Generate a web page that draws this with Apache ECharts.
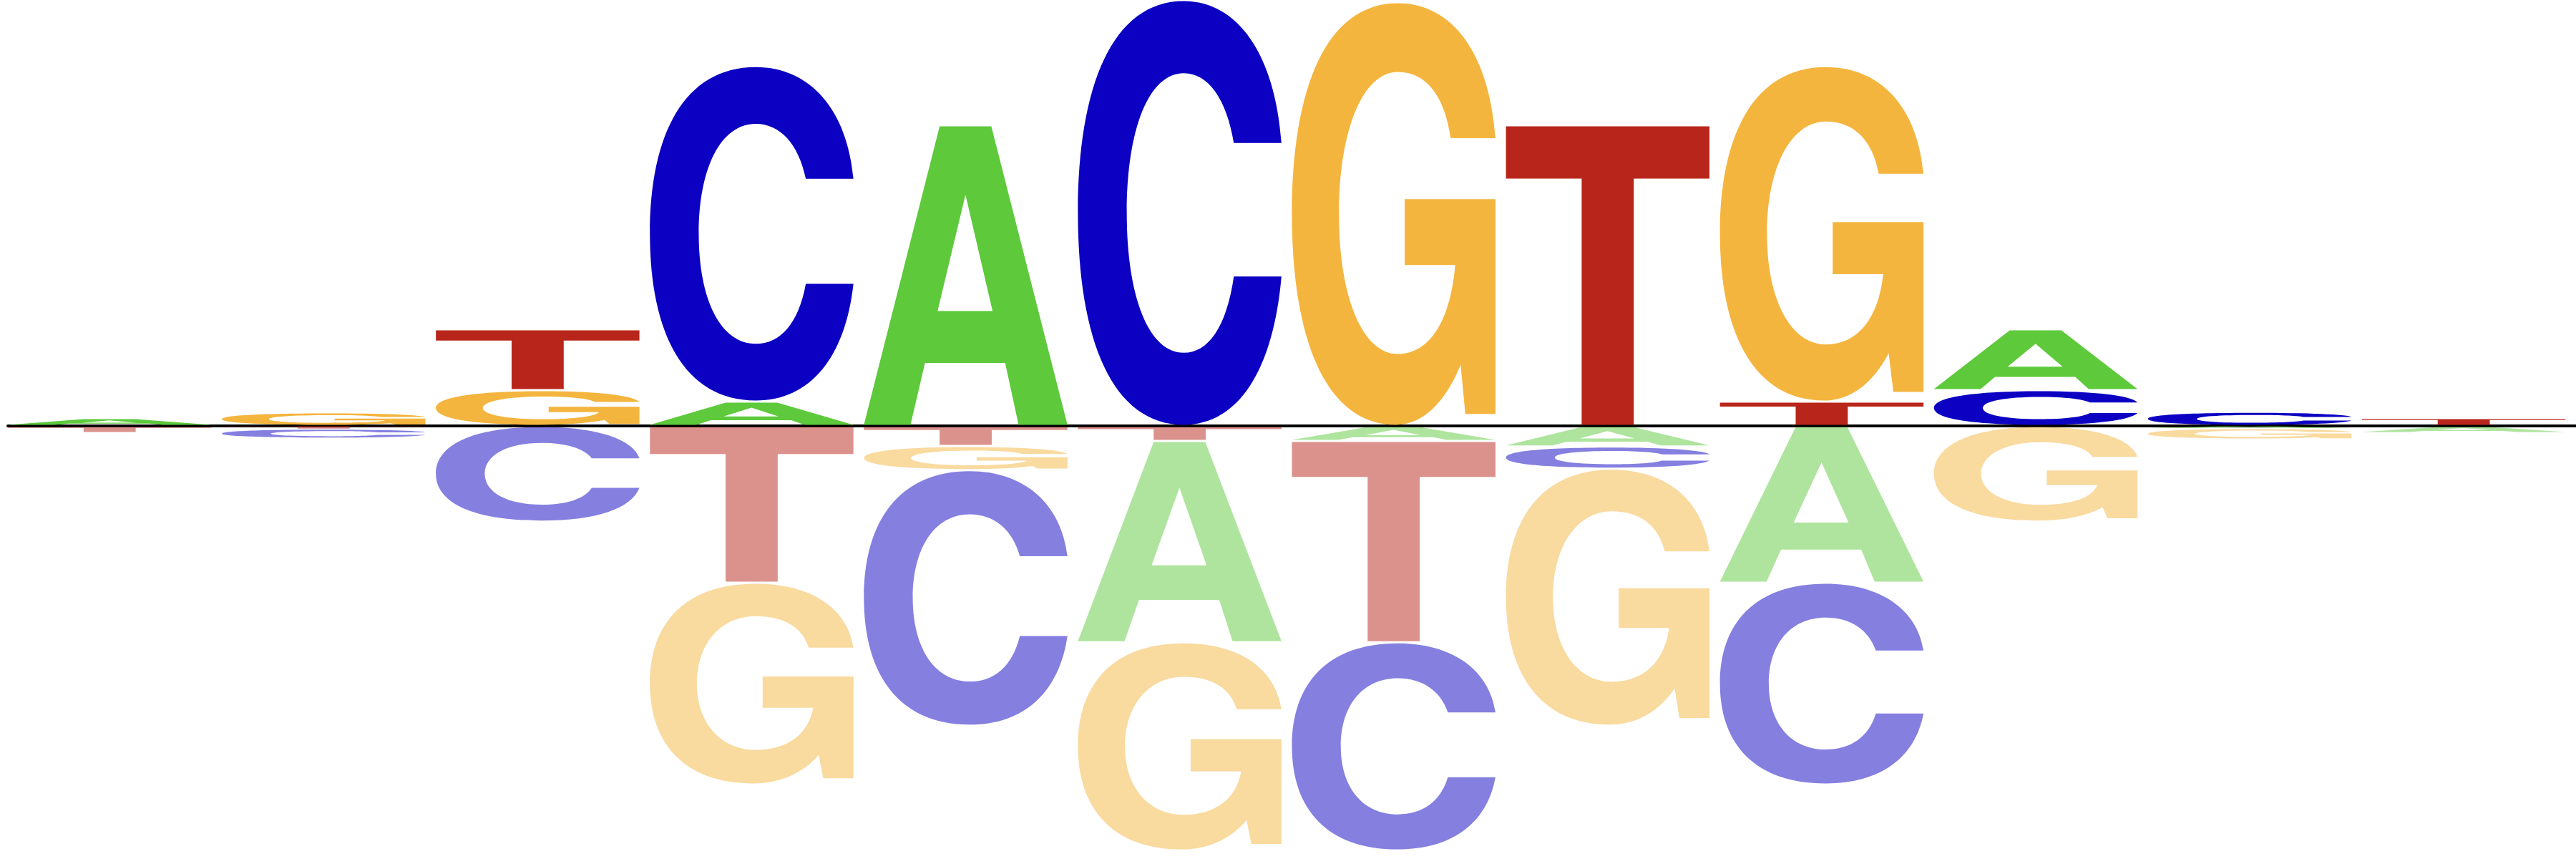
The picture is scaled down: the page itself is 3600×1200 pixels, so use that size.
<!DOCTYPE html>
<html>
<head>
<meta charset="utf-8">
<script src="https://cdn.jsdelivr.net/npm/echarts@6/dist/echarts.min.js"></script>
<style>
  html, body { margin: 0; padding: 0; background: #fff; }
  #logo { width: 3600px; height: 1200px; }
</style>
</head>
<body>
<div id="logo"></div>
<script>
// motif positions
const positions = ['1', '2', '3', '4', '5', '6', '7', '8', '9', '10', '11', '12'];
const letters = ['A', 'C', 'G', 'T'];

// heights above the line (bits), one array per base
const upA = [0.037, 0, 0, 0.114, 1.412, 0, 0, 0, 0, 0.286, 0, 0];
const upC = [0, 0, 0, 1.576, 0, 2.0, 0, 0, 0, 0.168, 0.066, 0];
const upG = [0, 0.064, 0.168, 0, 0, 0, 1.99, 0, 1.576, 0, 0, 0];
const upT = [0, 0, 0.286, 0, 0, 0, 0, 1.412, 0.114, 0, 0, 0.037];

// heights below the line (bits)
const downA = [0, 0, 0, 0, 0, 0.945, 0.071, 0.097, 0.736, 0, 0.01, 0.034];
const downC = [0, 0.047, 0.45, 0, 1.2, 0, 0.978, 0.104, 0.948, 0, 0, 0];
const downG = [0, 0, 0, 0.948, 0.114, 0.978, 0, 1.207, 0, 0.45, 0.054, 0];
const downT = [0.034, 0.013, 0, 0.736, 0.094, 0.071, 0.945, 0, 0, 0, 0, 0];

const colors = { A: '#5dc93b', C: '#0c00c2', G: '#f4b53f', T: '#b8261b' };

// glyph outlines in a 100x100 box, stretched to each cell
const glyphs = {
  A: 'M0 100 L37.2 0 L62.6 0 L100 100 L76 100 L69.4 79.3 L30 79.3 L22.9 100 Z ' +
     'M36.2 61.9 L63.2 61.9 L49.9 22.9 Z',
  C: 'M100 33.5 C97 13 79 0 52 0 C17 0 0 20 0 50 C0 80 17 100 52 100 ' +
     'C79 100 96 87 100 65 L76.6 65 C73 77 64 83 52 83 C35 83 24 70 24 50 ' +
     'C24 30 35 17 52 17 C64 17 73 23 76.6 33.5 Z',
  G: 'M100 32 C97 12 79 0 52 0 C17 0 0 20 0 50 C0 80 17 100 51 100 ' +
     'C64 100 75 95 82.9 85.8 L85.2 97.4 L100 97.4 L100 46.5 L55.4 46.5 L55.4 62.1 L80.2 62.1 ' +
     'C78 75 68 83.2 52 83.2 C35 83.2 23.1 70 23.1 50 C23.1 30 35 16.3 52 16.3 C66 16.3 75 22 78 32 Z',
  T: 'M0 0 L100 0 L100 17.5 L62.8 17.5 L62.8 100 L37.2 100 L37.2 17.5 L0 17.5 Z'
};

// stack each column, smallest letter nearest the line
const up = { A: upA, C: upC, G: upG, T: upT };
const down = { A: downA, C: downC, G: downG, T: downT };
const cells = [];
positions.forEach(function (p, i) {
  [[up, 1], [down, -1]].forEach(function (side) {
    const src = side[0], sign = side[1];
    const col = letters
      .map(function (l, k) { return { k: k, h: src[l][i] }; })
      .filter(function (d) { return d.h > 0; })
      .sort(function (a, b) { return a.h - b.h; });
    let acc = 0;
    col.forEach(function (d) {
      cells.push([i, d.k, sign * acc, sign * (acc + d.h), sign]);
      acc += d.h;
    });
  });
});

function renderLetter(params, api) {
  const i = api.value(0);
  const l = letters[api.value(1)];
  const a = api.coord([i, api.value(2)]);
  const b = api.coord([i, api.value(3)]);
  const band = api.size([1, 0])[0];
  let top = Math.min(a[1], b[1]);
  let h = Math.abs(a[1] - b[1]);
  if (h > 5) { top += 1.5; h -= 3; }
  if (h < 1) h = 1;
  return {
    type: 'path',
    shape: {
      pathData: glyphs[l],
      x: a[0] - band / 2,
      y: top,
      width: band * 0.951,
      height: h,
      layout: 'cover'
    },
    style: {
      fill: colors[l],
      opacity: api.value(4) < 0 ? 0.5 : 1
    }
  };
}

const chart = echarts.init(document.getElementById('logo'));
chart.setOption({
  animation: false,
  grid: { left: 11, width: 3603, top: 0, bottom: 0 },
  xAxis: {
    type: 'category',
    data: positions,
    axisLine: { show: true, onZero: true, lineStyle: { color: '#000', width: 4 } },
    axisTick: { show: false },
    axisLabel: { show: false },
    splitLine: { show: false }
  },
  yAxis: {
    type: 'value',
    min: -2.034,
    max: 2,
    show: false,
    splitLine: { show: false }
  },
  series: [{
    type: 'custom',
    renderItem: renderLetter,
    data: cells,
    z: 1
  }]
});
</script>
</body>
</html>
